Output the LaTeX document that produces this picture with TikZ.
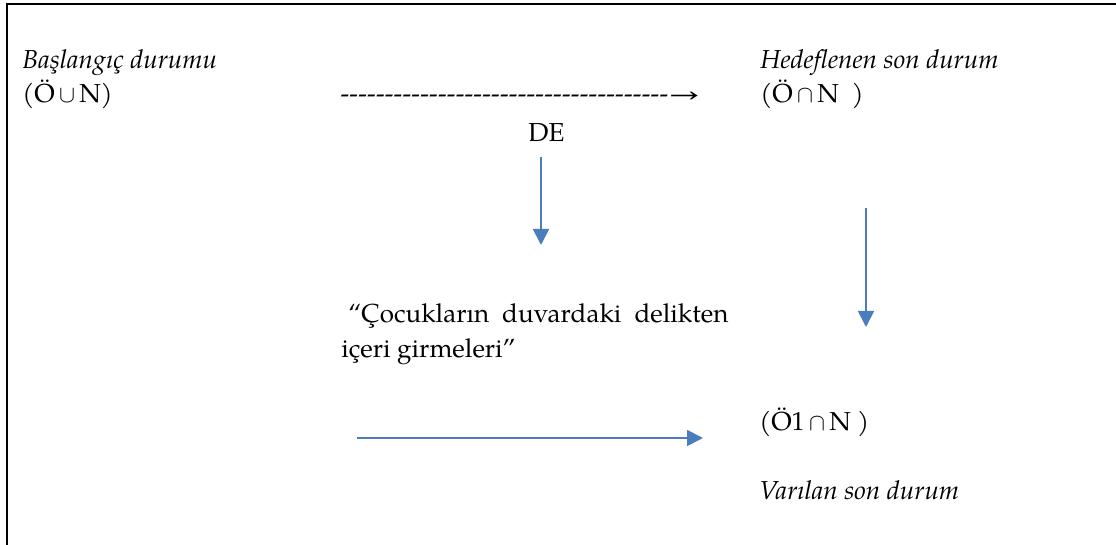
\documentclass[tikz,border=0pt]{standalone}
\usepackage{fontspec}
\setmainfont{TeX Gyre Pagella}
\usetikzlibrary{arrows.meta}
\definecolor{wordblue}{HTML}{4A7EBB}
\begin{document}
\begin{tikzpicture}[x=0.5pt,y=-0.5pt,
  lbl/.style={inner sep=0pt, anchor=base west, font=\fontsize{13pt}{17.5pt}\selectfont},
  title/.style={lbl, font=\fontsize{13pt}{17.5pt}\selectfont\itshape},
  flow/.style={draw=wordblue, line width=0.9pt, -{Triangle[length=8pt,width=8pt]}, color=wordblue},
  frame/.style={line width=1pt}]
\useasboundingbox (0,0) rectangle (1116,545);
% open frame: left and top edges only
\draw[frame] (7,545) -- (7,4) -- (1116,4);

% initial state
\node[title] (startT) at (22,69) {Başlangıç durumu};
\node[lbl] (start) at (22,103) {(Ö\,$\cup$\,N)};
% typed dashed arrow
\node[lbl] (dash) at (340,103) {\hbox to 164pt{\xleaders\hbox{-}\hfill}\scalebox{1.35}[1]{→}};
\node[lbl] (de) at (528,142) {DE};

% intended final state
\node[title] (goalT) at (760,69) {Hedeflenen son durum};
\node[lbl] (goal) at (760,103) {(Ö\,$\cap$\,N\ \ )};

% action
\node[lbl, anchor=north west, align=left] (act) at (341,303)
  {\makebox[193.5pt][s]{\hspace*{3.5pt}“Çocukların duvardaki delikten}\\içeri girmeleri”};

% reached final state
\node[lbl] (res) at (759,431) {(Ö1\,$\cap$\,N\ )};
\node[title] (resT) at (759,500) {Varılan son durum};

% blue arrows
\coordinate (a1s) at (541,157); \coordinate (a1e) at (541,245);
\coordinate (a2s) at (866,208); \coordinate (a2e) at (866,327);
\coordinate (a3s) at (357,438); \coordinate (a3e) at (703,438);
\draw[flow] (a1s) -- (a1e);
\draw[flow] (a2s) -- (a2e);
\draw[flow] (a3s) -- (a3e);
\end{tikzpicture}
\end{document}
